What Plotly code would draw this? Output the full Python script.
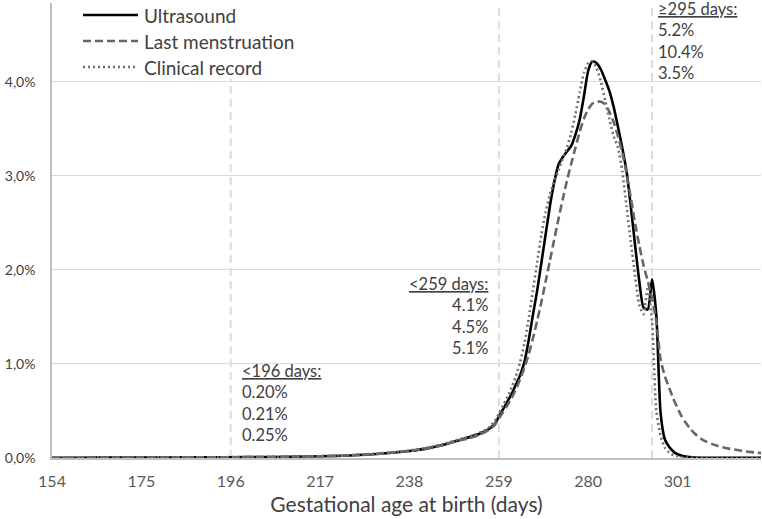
import plotly.graph_objects as go

# Gestational age at birth (days); coarse in the flat left tail, daily around the peak
days = [154, 161, 168, 175, 182, 189, 196, 203, 210, 217, 224, 231, 238, 242,
        246, 249, 252, 254, 256, 257, 258] + list(range(259, 306)) + \
       [307, 309, 311, 313, 315, 317, 319, 321]

# Share of births per day (%)
ultrasound = [
    0.003, 0.003, 0.004, 0.005, 0.006, 0.007, 0.008, 0.010, 0.013, 0.018, 0.027,
    0.045, 0.075, 0.10, 0.14, 0.18, 0.22, 0.25, 0.29, 0.32, 0.36,
    0.44, 0.52, 0.60, 0.68, 0.78, 0.88, 1.02, 1.25, 1.52, 1.78,
    2.08, 2.38, 2.68, 2.93, 3.12, 3.20, 3.26, 3.32, 3.44, 3.60,
    3.85, 4.12, 4.22, 4.20, 4.13, 4.02, 3.90, 3.73, 3.52, 3.30,
    3.05, 2.68, 2.27, 1.88, 1.60, 1.58, 1.90, 1.52, 0.48, 0.20,
    0.12, 0.07, 0.04, 0.025, 0.015, 0.01, 0.005,
    0.003, 0.002, 0.002, 0.001, 0.001, 0.001, 0.001, 0.001,
]
last_menstruation = [
    0.003, 0.003, 0.004, 0.005, 0.006, 0.007, 0.008, 0.010, 0.014, 0.019, 0.028,
    0.046, 0.076, 0.10, 0.14, 0.18, 0.21, 0.24, 0.28, 0.31, 0.35,
    0.42, 0.49, 0.56, 0.64, 0.73, 0.84, 0.96, 1.10, 1.27, 1.46,
    1.66, 1.88, 2.10, 2.32, 2.54, 2.75, 2.95, 3.13, 3.30, 3.47,
    3.61, 3.71, 3.77, 3.79, 3.79, 3.76, 3.68, 3.57, 3.42, 3.25,
    3.03, 2.77, 2.50, 2.26, 2.05, 1.88, 1.70, 1.45, 1.05, 0.87,
    0.75, 0.63, 0.53, 0.44, 0.37, 0.31, 0.26,
    0.19, 0.15, 0.12, 0.10, 0.085, 0.07, 0.06, 0.05,
]
clinical_record = [
    0.003, 0.003, 0.004, 0.005, 0.006, 0.008, 0.009, 0.011, 0.015, 0.020, 0.030,
    0.050, 0.080, 0.11, 0.15, 0.19, 0.23, 0.26, 0.30, 0.34, 0.39,
    0.47, 0.56, 0.65, 0.75, 0.87, 1.02, 1.22, 1.48, 1.78, 2.08,
    2.38, 2.62, 2.80, 2.94, 3.06, 3.18, 3.30, 3.46, 3.66, 3.89,
    4.10, 4.20, 4.22, 4.14, 4.00, 3.80, 3.60, 3.42, 3.30, 3.05,
    2.68, 2.30, 1.94, 1.63, 1.53, 1.82, 1.45, 0.50, 0.24, 0.11,
    0.06, 0.03, 0.02, 0.01, 0.005, 0.003, 0.002,
    0.001, 0.001, 0.001, 0.001, 0.001, 0.001, 0.001, 0.001,
]

series_names = ["Ultrasound", "Last menstruation", "Clinical record"]

# Cut-offs and the share of births beyond them, per method
cutoff_days = [196, 259, 295]
cutoff_labels = ["&lt;196 days:", "&lt;259 days:", "≥295 days:"]
share_ultrasound = ["0.20%", "4.1%", "5.2%"]
share_lmp = ["0.21%", "4.5%", "10.4%"]
share_clinical = ["0.25%", "5.1%", "3.5%"]

x_ticks = [154, 175, 196, 217, 238, 259, 280, 301]
y_ticks = [0, 1, 2, 3, 4]
y_ticktext = ["0,0%", "1,0%", "2,0%", "3,0%", "4,0%"]

FONT = "Lato, 'Open Sans', sans-serif"
TEXT = "#404040"

# plot area in pixels (figure 762 x 519)
L, R, T, B = 52, 761, 3, 458


def px_x(px):
    return (px - L) / (R - L)


def px_y(py):
    return (B - py) / (B - T)


styles = [
    dict(color="#000000", width=2.6, dash="solid"),
    dict(color="#666666", width=2.6, dash="8px,4px"),
    dict(color="#707070", width=2.6, dash="2px,3px"),
]

fig = go.Figure()
for name, vals, st in zip(series_names,
                          [ultrasound, last_menstruation, clinical_record],
                          styles):
    fig.add_trace(go.Scatter(
        x=days, y=vals, name=name, mode="lines",
        line=dict(shape="spline", smoothing=0.6, **st),
        showlegend=False,
        hovertemplate="%{x} days: %{y:.2f}%<extra>" + name + "</extra>",
    ))

shapes = []
# cut-off reference lines
for d in cutoff_days:
    shapes.append(dict(type="line", xref="x", yref="paper", x0=d, x1=d, y0=0, y1=1,
                       line=dict(color="#dcdcdc", width=2, dash="8px,5px"),
                       layer="below"))
# white legend box (hides the top of the 196 line, like the original)
shapes.append(dict(type="rect", xref="paper", yref="paper",
                   x0=px_x(70), x1=px_x(310), y0=px_y(79), y1=px_y(-5),
                   fillcolor="white", line=dict(width=0), layer="below"))

annotations = []
# manual legend with long line samples
legend_rows = [15, 41, 67]
for name, st, row in zip(series_names, styles, legend_rows):
    shapes.append(dict(type="line", xref="paper", yref="paper",
                       x0=px_x(83), x1=px_x(138), y0=px_y(row), y1=px_y(row),
                       line=st))
    annotations.append(dict(
        xref="paper", yref="paper", x=px_x(142), y=px_y(row),
        xanchor="left", yanchor="middle", showarrow=False,
        text=name, font=dict(family=FONT, size=19, color=TEXT),
    ))

# cut-off text blocks
block_pos = [
    dict(xanchor="left", align="left", xshift=9, yanchor="bottom", y=px_y(447)),
    dict(xanchor="right", align="right", xshift=-9, yanchor="top", y=px_y(272)),
    dict(xanchor="left", align="left", xshift=4, yanchor="top", y=px_y(-3)),
]
for d, lab, a, b, c, pos in zip(cutoff_days, cutoff_labels, share_ultrasound,
                                share_lmp, share_clinical, block_pos):
    annotations.append(dict(
        xref="x", yref="paper", x=d, showarrow=False,
        text=f"<u>{lab}</u><br>{a}<br>{b}<br>{c}",
        font=dict(family=FONT, size=16.5, color=TEXT),
        **pos,
    ))

fig.update_layout(
    width=762, height=519,
    margin=dict(l=L, r=762 - R, t=T, b=519 - B),
    paper_bgcolor="white",
    plot_bgcolor="white",
    font=dict(family=FONT, color="#595959"),
    shapes=shapes,
    annotations=annotations,
    xaxis=dict(
        range=[154, 320.6],
        tickvals=x_ticks,
        ticks="",
        showgrid=False,
        zeroline=False,
        showline=True, linecolor="#bfbfbf", linewidth=2,
        tickfont=dict(family=FONT, size=16, color="#595959"),
        ticklabelstandoff=8,
        title=dict(text="Gestational age at birth (days)",
                   font=dict(family=FONT, size=21, color="#404040"),
                   standoff=8),
        automargin=False,
    ),
    yaxis=dict(
        range=[0, 4.84],
        tickvals=y_ticks,
        ticktext=y_ticktext,
        ticks="",
        showgrid=True, gridcolor="#d9d9d9", gridwidth=1.3,
        zeroline=False,
        showline=True, linecolor="#bfbfbf", linewidth=1.5,
        tickfont=dict(family=FONT, size=14, color="#404040"),
        ticklabelstandoff=12,
        automargin=False,
    ),
)

# the page's default 8px body margin would push the chart off its 762x519 frame
fig.write_html("out.html", config={"displayModeBar": False},
               post_script="document.body.style.margin='0';")
